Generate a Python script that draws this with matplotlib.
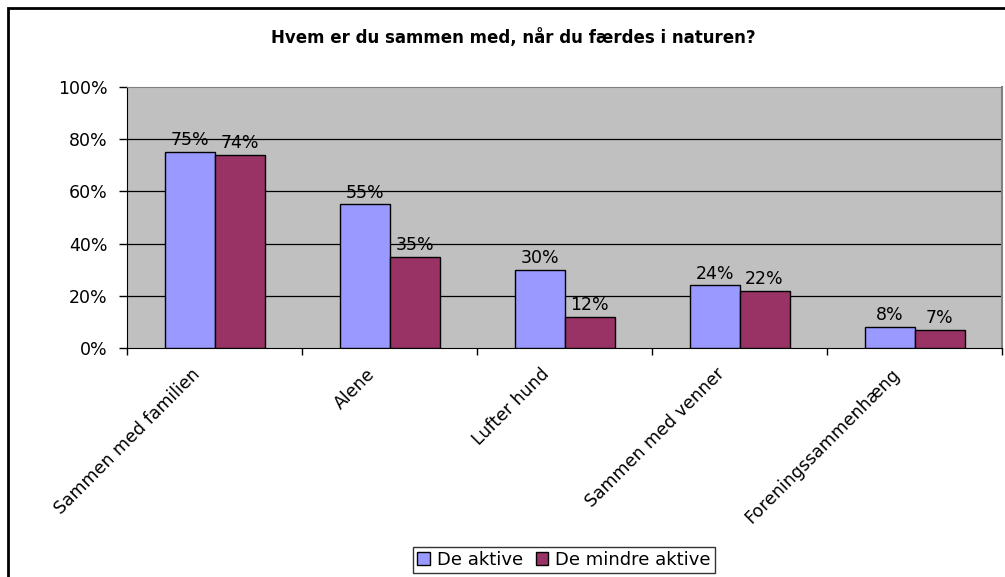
import numpy as np
import matplotlib
matplotlib.use('Agg')
import matplotlib.pyplot as plt
from matplotlib.patches import Rectangle
from matplotlib.ticker import FixedLocator, NullFormatter

# data
categories = ['Sammen med familien', 'Alene', 'Lufter hund',
              'Sammen med venner', 'Foreningssammenhæng']
aktive = [75, 55, 30, 24, 8]
mindre_aktive = [74, 35, 12, 22, 7]
series_names = ['De aktive', 'De mindre aktive']
title = 'Hvem er du sammen med, når du færdes i naturen?'

plt.rcParams['font.family'] = ['DejaVu Sans']

W, H = 1005, 577
fig = plt.figure(figsize=(W / 100, H / 100), dpi=100)
fig.patch.set_facecolor('white')

# outer chart border (only left/top visible in the crop)
fig.add_artist(Rectangle((8 / W, -0.1), 1.2, 1 - 8 / H + 0.1, transform=fig.transFigure,
                         fill=False, edgecolor='black', linewidth=2))

# plot area
x0, x1, y0, y1 = 127, 1002, 87, 348
ax = fig.add_axes([x0 / W, 1 - y1 / H, (x1 - x0) / W, (y1 - y0) / H])
ax.set_facecolor('#C0C0C0')

x = np.arange(len(categories))
bw = 1 / 3.5
ax.bar(x - bw / 2, aktive, bw, color='#9999FF', edgecolor='black', linewidth=1, zorder=3)
ax.bar(x + bw / 2, mindre_aktive, bw, color='#993366', edgecolor='black', linewidth=1, zorder=3)

for xi, v in zip(x - bw / 2, aktive):
    ax.annotate(f'{v}%', (xi, v), xytext=(0, 2), textcoords='offset points',
                ha='center', va='bottom', fontsize=12.5, zorder=4)
for xi, v in zip(x + bw / 2, mindre_aktive):
    ax.annotate(f'{v}%', (xi, v), xytext=(0, 2), textcoords='offset points',
                ha='center', va='bottom', fontsize=12.5, zorder=4)

ax.set_xlim(-0.5, len(categories) - 0.5)
ax.set_ylim(0, 100)
ax.set_yticks([0, 20, 40, 60, 80, 100])
ax.set_yticklabels([f'{t}%' for t in [0, 20, 40, 60, 80, 100]], fontsize=12.5)
for t in [20, 40, 60, 80]:
    ax.axhline(t, color='black', linewidth=0.9, zorder=1)

ax.xaxis.set_major_locator(FixedLocator(np.arange(-0.5, len(categories), 1.0)))
ax.xaxis.set_major_formatter(NullFormatter())
ax.tick_params(axis='x', direction='out', length=5, width=1)
ax.tick_params(axis='y', direction='out', length=6, width=1, pad=8)

for xi, lab in zip(x, categories):
    ax.text(xi - 0.1, -9, lab, rotation=45, rotation_mode='anchor',
            ha='right', va='center', fontsize=12.5, transform=ax.transData)

ax.spines['left'].set_color('black')
ax.spines['bottom'].set_color('black')
ax.spines['top'].set_color('#808080')
ax.spines['right'].set_color('#808080')
ax.spines['right'].set_linewidth(1.5)

fig.text(513 / W, 1 - 38 / H, title, ha='center', va='center',
         fontsize=12, fontweight='bold')

handles = [Rectangle((0, 0), 1, 1, facecolor='#9999FF', edgecolor='black'),
           Rectangle((0, 0), 1, 1, facecolor='#993366', edgecolor='black')]
leg = fig.legend(handles, series_names, loc='center', bbox_to_anchor=(564 / W, 1 - 560 / H),
                 ncol=2, fontsize=13, frameon=True, fancybox=False, handlelength=0.7,
                 handleheight=0.7, handletextpad=0.4, columnspacing=0.7, borderpad=0.2)
leg.get_frame().set_edgecolor('black')
leg.get_frame().set_linewidth(1)

fig.savefig('out.png', dpi=100)
